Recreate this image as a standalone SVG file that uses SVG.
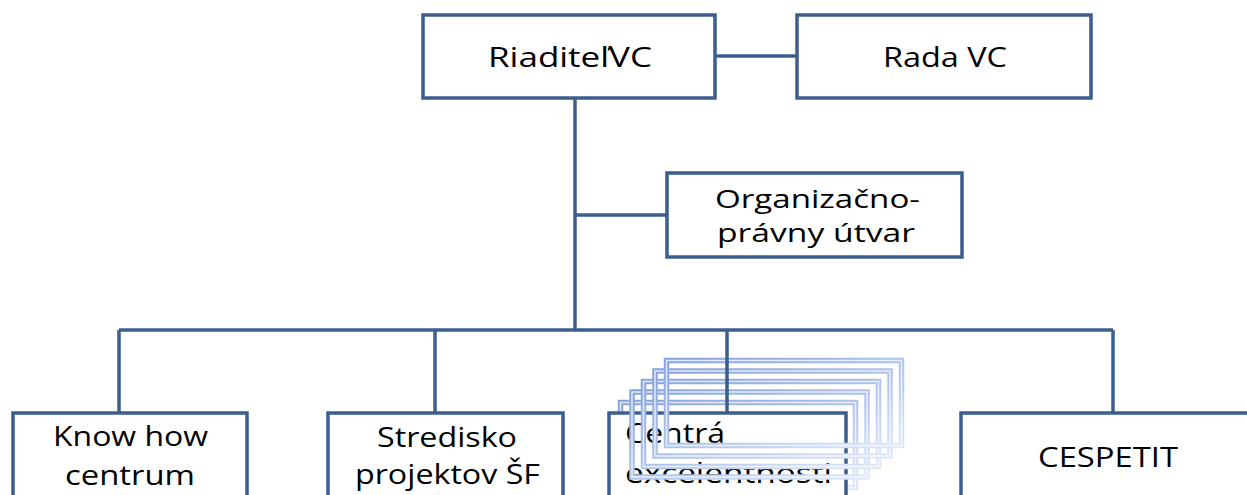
<svg xmlns="http://www.w3.org/2000/svg" width="1247" height="495" viewBox="0 0 1247 495">
<style>
.box{fill:#ffffff;stroke:#3c5e8e;stroke-width:3.5}
.ln{fill:none;stroke:#3c5e8e;stroke-width:3.5}
.t{font-family:"Open Sans","Liberation Sans",sans-serif;font-size:28px;fill:#000000}
.s{font-size:26px}
.fr{fill:none;stroke:url(#fg);stroke-width:5.5}
.fri{fill:none;stroke:#ffffff;stroke-width:1.5;opacity:0.75}
</style>
<defs>
<linearGradient id="fg" x1="0" y1="0" x2="1" y2="1">
<stop offset="0" stop-color="#87a3dc"/>
<stop offset="0.5" stop-color="#adc3ec"/>
<stop offset="1" stop-color="#dfe8f8"/>
</linearGradient>
</defs>
<g id="connectors">
<line class="ln" x1="715" y1="56" x2="797" y2="56"/>
<line class="ln" x1="575" y1="98" x2="575" y2="330"/>
<line class="ln" x1="575" y1="215" x2="667" y2="215"/>
<line class="ln" x1="119" y1="330" x2="1113" y2="330"/>
<line class="ln" x1="119" y1="330" x2="119" y2="413"/>
<line class="ln" x1="435" y1="330" x2="435" y2="413"/>
<line class="ln" x1="1113" y1="330" x2="1113" y2="413"/>
</g>
<g id="riaditel">
<rect class="box" x="423" y="15" width="292" height="83"/>
<text class="t" x="488" y="67" textLength="164" lengthAdjust="spacingAndGlyphs">RiaditeľVC</text>
</g>
<g id="rada">
<rect class="box" x="797" y="15" width="294" height="83"/>
<text class="t" x="883" y="67" textLength="124" lengthAdjust="spacingAndGlyphs">Rada VC</text>
</g>
<g id="organizacno">
<rect class="box" x="667" y="173" width="295" height="84"/>
<text class="t s" x="715" y="208" textLength="205" lengthAdjust="spacingAndGlyphs">Organizačno-</text>
<text class="t s" x="717" y="242" textLength="198" lengthAdjust="spacingAndGlyphs">právny útvar</text>
</g>
<g id="knowhow">
<rect class="box" x="13" y="413" width="234" height="100"/>
<text class="t" x="53" y="446" textLength="155" lengthAdjust="spacingAndGlyphs">Know how</text>
<text class="t" x="65" y="485" textLength="130" lengthAdjust="spacingAndGlyphs">centrum</text>
</g>
<g id="stredisko">
<rect class="box" x="328" y="413" width="235" height="100"/>
<text class="t" x="377" y="447" textLength="140" lengthAdjust="spacingAndGlyphs">Stredisko</text>
<text class="t" x="355" y="484" textLength="185" lengthAdjust="spacingAndGlyphs">projektov ŠF</text>
</g>
<g id="centra">
<rect class="fr" x="620.5" y="402.5" width="235" height="85"/>
<rect class="fri" x="620.5" y="402.5" width="235" height="85"/>
<rect class="box" x="609" y="413" width="237" height="100"/>
<text class="t" x="625" y="443" textLength="100" lengthAdjust="spacingAndGlyphs">Centrá</text>
<text class="t" x="625" y="483" textLength="207" lengthAdjust="spacingAndGlyphs">excelentnosti</text>
<rect class="fr" x="632" y="392" width="235" height="85"/>
<rect class="fri" x="632" y="392" width="235" height="85"/>
<rect class="fr" x="643.5" y="381.5" width="235" height="85"/>
<rect class="fri" x="643.5" y="381.5" width="235" height="85"/>
<rect class="fr" x="655" y="371" width="235" height="85"/>
<rect class="fri" x="655" y="371" width="235" height="85"/>
<rect class="fr" x="666.5" y="360.5" width="235" height="85"/>
<rect class="fri" x="666.5" y="360.5" width="235" height="85"/>
<line class="ln" x1="727" y1="330" x2="727" y2="413"/>
</g>
<g id="cespetit">
<rect class="box" x="961" y="413" width="300" height="100"/>
<text class="t" x="1038" y="467" textLength="140" lengthAdjust="spacingAndGlyphs">CESPETIT</text>
</g>
</svg>
